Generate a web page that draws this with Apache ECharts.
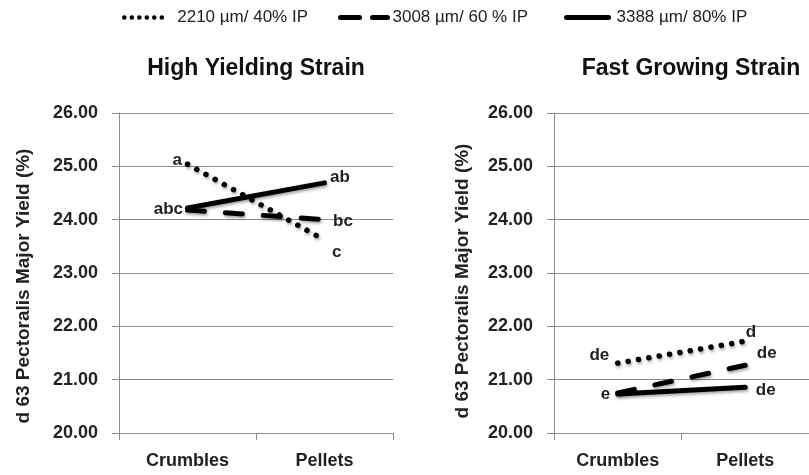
<!DOCTYPE html>
<html>
<head>
<meta charset="utf-8">
<script src="https://cdn.jsdelivr.net/npm/echarts@6/dist/echarts.min.js"></script>
<style>
  html, body { margin: 0; padding: 0; background: #fff; }
  #chart { width: 809px; height: 475px; }
</style>
</head>
<body>
<div id="chart"></div>
<script>
// categories and series names
var feedForms = ['Crumbles', 'Pellets'];
var seriesNames = ['2210 µm/ 40% IP', '3008 µm/ 60 % IP', '3388 µm/ 80% IP'];
var yTicks = [20, 21, 22, 23, 24, 25, 26];

// High Yielding Strain
var hyDot = [25.04, 23.62];
var hyDash = [24.18, 24.00];
var hySolid = [24.22, 24.69];
var hyDotLetters = ['a', 'c'];
var hyDashLetters = ['', 'bc'];
var hySolidLetters = ['abc', 'ab'];

// Fast Growing Strain
var fgDot = [21.31, 21.72];
var fgDash = [20.75, 21.27];
var fgSolid = [20.73, 20.86];
var fgDotLetters = ['de', 'd'];
var fgDashLetters = ['', 'de'];
var fgSolidLetters = ['e', 'de'];

var font = "'Liberation Sans', Arial, sans-serif";
var gridColor = '#8c8c8c';

var dotStyle = { type: [0.1, 10.4], width: 5.5, cap: 'round' };
var dashStyle = { type: [17, 21], width: 5, cap: 'round' };
var solidStyle = { type: 'solid', width: 5, cap: 'round' };

// label placement for each point: [position, distance, offset]
function withLetters(values, letters, places) {
  return values.map(function (v, i) {
    var p = places[i];
    return {
      value: v,
      label: {
        show: letters[i] !== '',
        formatter: letters[i],
        position: p[0],
        distance: p[1],
        offset: p[2]
      }
    };
  });
}

function lineSeries(name, style, idx, data) {
  return {
    name: name,
    type: 'line',
    xAxisIndex: idx,
    yAxisIndex: idx,
    symbol: 'circle',
    symbolSize: 1,
    showSymbol: true,
    data: data,
    lineStyle: Object.assign({
      color: '#000',
      shadowColor: 'rgba(0,0,0,0.35)',
      shadowBlur: 3,
      shadowOffsetX: 1,
      shadowOffsetY: 2
    }, style),
    itemStyle: { color: 'rgba(0,0,0,0)' },
    label: {
      color: '#222',
      fontFamily: font,
      fontWeight: 'bold',
      fontSize: 17
    },
    emphasis: { disabled: true }
  };
}

function xAxis(idx) {
  return {
    type: 'category',
    gridIndex: idx,
    data: feedForms,
    boundaryGap: true,
    axisLine: { lineStyle: { color: gridColor, width: 1 } },
    axisTick: { show: true, length: 7, lineStyle: { color: gridColor } },
    axisLabel: {
      margin: 19,
      color: '#222',
      fontFamily: font,
      fontWeight: 'bold',
      fontSize: 18
    }
  };
}

function yAxis(idx, gap, shift) {
  return {
    type: 'value',
    gridIndex: idx,
    min: yTicks[0],
    max: yTicks[yTicks.length - 1],
    interval: 1,
    name: 'd 63 Pectoralis Major Yield (%)',
    nameLocation: 'middle',
    nameGap: gap,
    nameTextStyle: {
      color: '#222',
      fontFamily: font,
      fontWeight: 'bold',
      fontSize: 19,
      padding: [0, shift, 0, 0]
    },
    axisLine: { show: true, lineStyle: { color: gridColor, width: 1 } },
    axisTick: { show: true, length: 7, lineStyle: { color: gridColor } },
    splitLine: { show: true, lineStyle: { color: gridColor, width: 1 } },
    axisLabel: {
      margin: 21,
      color: '#222',
      fontFamily: font,
      fontWeight: 'bold',
      fontSize: 18,
      formatter: function (v) { return v.toFixed(2); }
    }
  };
}

function legend(name, left, width, style, pad) {
  return {
    data: [name],
    left: left,
    top: 9,
    padding: 0,
    itemWidth: width,
    itemHeight: 14,
    selectedMode: false,
    lineStyle: style,
    textStyle: {
      color: '#222',
      fontFamily: font,
      fontSize: 17,
      padding: [3, 0, 0, pad]
    }
  };
}

var chart = echarts.init(document.getElementById('chart'));
chart.setOption({
  backgroundColor: '#fff',
  animation: false,
  title: [
    { text: 'High Yielding Strain', left: 256, textAlign: 'center', top: 57, padding: 0,
      textStyle: { fontFamily: font, fontWeight: 'bold', fontSize: 23, color: '#111' } },
    { text: 'Fast Growing Strain', left: 691, textAlign: 'center', top: 57, padding: 0,
      textStyle: { fontFamily: font, fontWeight: 'bold', fontSize: 23, color: '#111' } }
  ],
  legend: [
    legend(seriesNames[0], 122, 38, { type: [0.1, 7.4], width: 4.5, cap: 'round' }, 10),
    legend(seriesNames[1], 338, 47, { type: [19, 13], width: 5 }, 0),
    legend(seriesNames[2], 564, 42, { type: 'solid', width: 5 }, 3)
  ],
  grid: [
    { left: 119, top: 113, width: 274, height: 320 },
    { left: 554, top: 113, width: 264, height: 320 }
  ],
  xAxis: [xAxis(0), xAxis(1)],
  yAxis: [yAxis(0, 86, 26), yAxis(1, 82, 16)],
  series: [
    lineSeries(seriesNames[0], dotStyle, 0,
      withLetters(hyDot, hyDotLetters, [['left', 5, [0, -4]], ['right', 7, [0, 12]]])),
    lineSeries(seriesNames[1], dashStyle, 0,
      withLetters(hyDash, hyDashLetters, [['left', 5, [0, 0]], ['right', 8, [0, 2]]])),
    lineSeries(seriesNames[2], solidStyle, 0,
      withLetters(hySolid, hySolidLetters, [['left', 4, [0, 1]], ['right', 5, [0, -6]]])),
    lineSeries(seriesNames[0], dotStyle, 1,
      withLetters(fgDot, fgDotLetters, [['left', 8, [0, -8]], ['right', 0, [0, -9]]])),
    lineSeries(seriesNames[1], dashStyle, 1,
      withLetters(fgDash, fgDashLetters, [['left', 5, [0, 0]], ['right', 11, [0, -12]]])),
    lineSeries(seriesNames[2], solidStyle, 1,
      withLetters(fgSolid, fgSolidLetters, [['left', 7, [0, 0]], ['right', 10, [0, 3]]]))
  ]
});
</script>
</body>
</html>
